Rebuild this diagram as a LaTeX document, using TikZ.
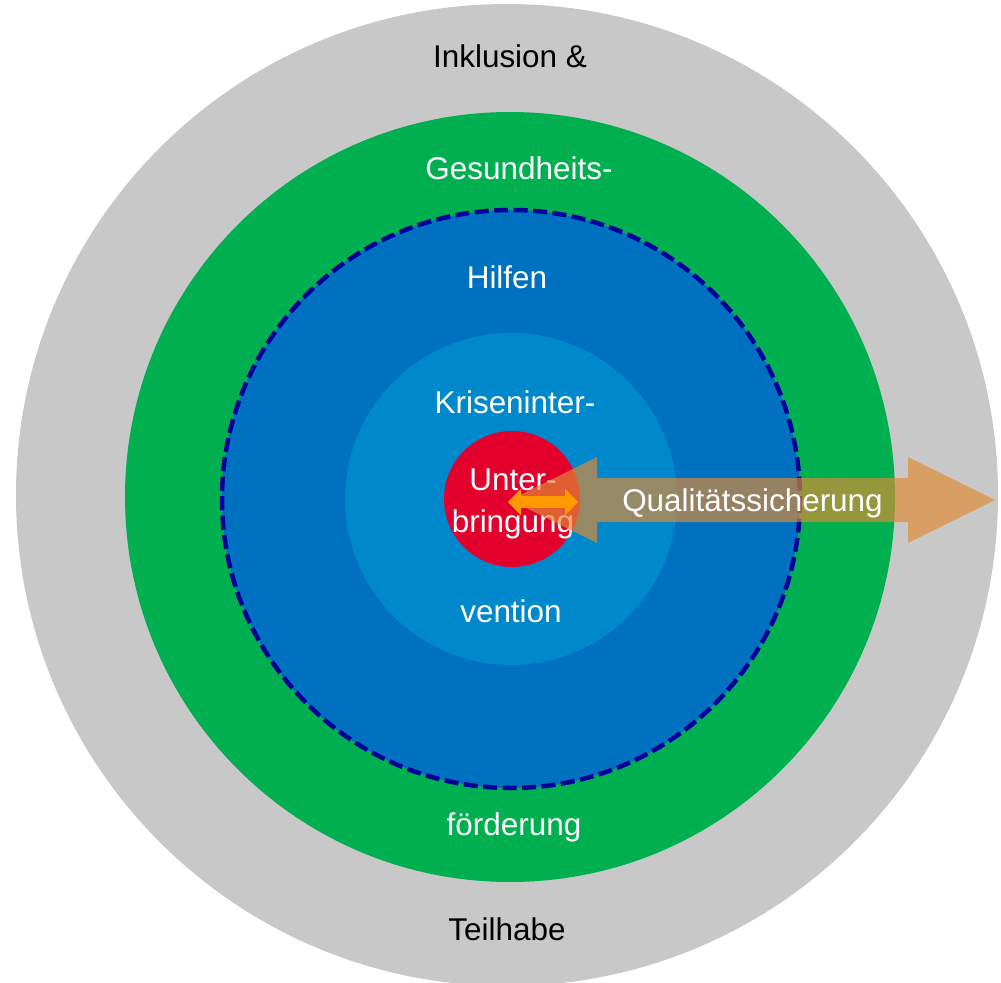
\documentclass[tikz,border=0pt]{standalone}
\usepackage{fontspec}
\setmainfont{Liberation Sans}
\usetikzlibrary{arrows.meta}

\definecolor{ringgray}{HTML}{C8C8C8}
\definecolor{ringgreen}{HTML}{00B050}
\definecolor{ringblue}{HTML}{0070C0}
\definecolor{ringlight}{HTML}{0088CC}
\definecolor{ringred}{HTML}{E3002D}
\definecolor{ringnavy}{HTML}{000099}
\definecolor{qsorange}{HTML}{E18C35}
\definecolor{qsbright}{HTML}{FF9900}

\tikzset{
  ringtext/.style={anchor=base, inner sep=0pt, text=white,
    font=\fontsize{17.9}{26.8}\selectfont},
  outertext/.style={ringtext, text=black},
}

\begin{document}
\begin{tikzpicture}[x=0.02cm, y=-0.02cm]
\useasboundingbox (0,0) rectangle (1001,983);

% Rings
\fill[ringgray] (507,495) circle (491);     % Inklusion & Teilhabe
\fill[ringgreen] (510,497) circle (385);    % Gesundheitsfoerderung
\fill[ringblue] (511,499) circle (289);     % Hilfen
\draw[ringnavy, line width=0.09cm, dash pattern=on 0.28cm off 0.11cm]
  (511,499) circle (289);
\fill[ringlight] (511,499) circle (166);    % Krisenintervention
\fill[ringred] (512,499) circle (68);       % Unterbringung

% Labels
\node[outertext] (inklusion) at (510,67.7) {Inklusion \&};
\node[outertext] (teilhabe) at (507,940.7) {Teilhabe};
\node[ringtext] (gesundheit) at (519,179.3) {Gesundheits-};
\node[ringtext] (foerderung) at (514,835) {förderung};
\node[ringtext] (hilfen) at (507,288.3) {Hilfen};
\node[ringtext] (kriseninter) at (515,413.3) {Kriseninter-};
\node[ringtext] (vention) at (511,622.3) {vention};
\node[ringtext] (unter) at (513,490) {Unter-};
\node[ringtext] (bringung) at (513,532) {bringung};

% Qualitaetssicherung arrow
\fill[qsorange, fill opacity=0.67]
  (510,500) -- (597,457) -- (597,478) -- (908,478) -- (908,457) -- (995,500)
  -- (908,543) -- (908,522) -- (597,522) -- (597,543) -- cycle;
\coordinate (qsleft) at (508,502);
\coordinate (qsright) at (578,502);
\draw[qsbright, line width=0.25cm,
  {Triangle[width=0.54cm, length=0.26cm, line width=0pt]}-{Triangle[width=0.54cm, length=0.26cm, line width=0pt]}]
  (qsleft) -- (qsright);
\node[ringtext] (qualitaet) at (752.5,511.7) {Qualitätssicherung};

\end{tikzpicture}
\end{document}
